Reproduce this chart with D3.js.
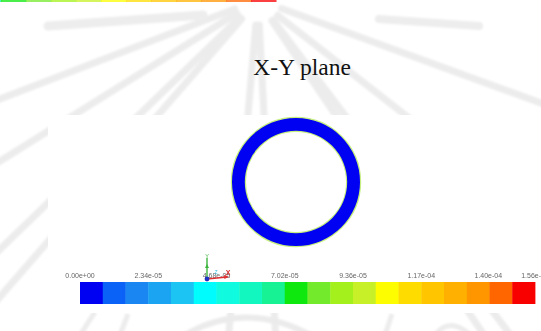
<!DOCTYPE html>
<html>
<head>
<meta charset="utf-8">
<script src="https://cdn.jsdelivr.net/npm/d3@7"></script>
<style>
  html, body { margin: 0; padding: 0; background: #ffffff; overflow: hidden; }
  svg { display: block; }
</style>
</head>
<body>
<svg id="chart" width="541" height="331"></svg>
<script>
// ---- contour colour levels (20 bands, low -> high) ----
const levelColors = [
  "#0000f2", "#0b62f6", "#1a86f2", "#1ba4f2", "#1cc4f4",
  "#00fcfc", "#10fae0", "#12f7c0", "#16f294", "#0ee80e",
  "#74ea2c", "#a4f01c", "#c8f028", "#fdfd00", "#ffdc00",
  "#ffc600", "#ffb000", "#ff9600", "#ff6600", "#f80000"
];
const valueMin = 0;
const valueMax = 1.56e-4;
const tickValues = [0, 2.34e-5, 4.68e-5, 7.02e-5, 9.36e-5, 1.17e-4, 1.40e-4, 1.56e-4];
const tickLabels = ["0.00e+00", "2.34e-05", "4.68e-05", "7.02e-05", "9.36e-05", "1.17e-04", "1.40e-04", "1.56e-04"];

// ---- annular section in the X-Y plane (metres) ----
const pipeOuterRadius = 0.0125;
const pipeInnerRadius = 0.0100;
const ringValue = 0;

// ---- faint background emblem: ray directions in degrees from vertical ----
const emblemRayAngles = [-69, -58, -46, -41, -5, 3, 34, 37, 52, 70];

const svg = d3.select("#chart");
const defs = svg.append("defs");
const soft = (id, s) => defs.append("filter").attr("id", id)
  .attr("x", "-20%").attr("y", "-20%").attr("width", "140%").attr("height", "140%")
  .append("feGaussianBlur").attr("stdDeviation", s);
soft("blurWm", 1.3);
soft("blurRing", 0.55);
soft("blurText", 0.35);

// ---- background emblem ----
const wm = svg.append("g").attr("filter", "url(#blurWm)");
const cx0 = 258, cy0 = 0;
emblemRayAngles.forEach(a => {
  const t = a * Math.PI / 180;
  const dx = Math.sin(t), dy = Math.cos(t);
  wm.append("line")
    .attr("x1", cx0 + dx * 25).attr("y1", cy0 + dy * 25)
    .attr("x2", cx0 + dx * 420).attr("y2", cy0 + dy * 420)
    .attr("stroke", "#ececec").attr("stroke-width", 7).attr("stroke-linecap", "round");
});
wm.append("line").attr("x1", 48).attr("y1", 26).attr("x2", 203).attr("y2", 15)
  .attr("stroke", "#ededed").attr("stroke-width", 9).attr("stroke-linecap", "round");
wm.append("line").attr("x1", 379).attr("y1", 19).attr("x2", 479).attr("y2", 26)
  .attr("stroke", "#ededed").attr("stroke-width", 8).attr("stroke-linecap", "round");
wm.append("path").attr("d", "M185,335 Q245,300 310,335")
  .attr("fill", "none").attr("stroke", "#ebebeb").attr("stroke-width", 6);
wm.append("path").attr("d", "M80,335 L95,312 M120,335 L128,314 M385,335 L392,314 M435,335 Q450,316 470,335")
  .attr("fill", "none").attr("stroke", "#ececec").attr("stroke-width", 5);

// ---- strip of a colour bar along the top edge ----
const topBand = d3.scaleBand().domain(d3.range(levelColors.length)).range([-224, 276]);
svg.append("g").selectAll("rect").data(levelColors).join("rect")
  .attr("x", (d, i) => topBand(i)).attr("y", 0)
  .attr("width", topBand.bandwidth() + 0.5).attr("height", 2)
  .attr("fill", d => d).attr("opacity", 0.75);

// ---- title ----
svg.append("text")
  .attr("x", 302).attr("y", 75)
  .attr("text-anchor", "middle")
  .attr("font-family", "'Liberation Serif', 'Times New Roman', serif")
  .attr("font-size", 23.5).attr("fill", "#111")
  .text("X-Y plane");

// ---- white contour panel ----
svg.append("rect").attr("x", 48).attr("y", 115).attr("width", 493).attr("height", 198).attr("fill", "#ffffff");

// ---- ring contour ----
const colorOf = d3.scaleQuantize().domain([valueMin, valueMax]).range(levelColors);
const xs = d3.scaleLinear().domain([-pipeOuterRadius, pipeOuterRadius]).range([232, 360]);
const ys = d3.scaleLinear().domain([pipeOuterRadius, -pipeOuterRadius]).range([118, 246]);
const rs = d3.scaleLinear().domain([0, pipeOuterRadius]).range([0, 64]);
const ring = svg.append("g")
  .attr("transform", `translate(${xs(0)},${ys(0)})`)
  .attr("filter", "url(#blurRing)");
ring.selectAll("circle.edge").data([pipeOuterRadius, pipeInnerRadius]).join("circle")
  .attr("class", "edge").attr("r", d => rs(d))
  .attr("fill", "none").attr("stroke", "#c6ee80").attr("stroke-width", 2.4);
ring.append("path")
  .attr("d", d3.arc().innerRadius(rs(pipeInnerRadius)).outerRadius(rs(pipeOuterRadius))
    .startAngle(0).endAngle(2 * Math.PI)())
  .attr("fill", colorOf(ringValue));

// ---- colour legend ----
const band = d3.scaleBand().domain(d3.range(levelColors.length)).range([80, 535]);
const lx = d3.scaleLinear().domain([valueMin, valueMax]).range([80, 535]);
const legend = svg.append("g");
legend.selectAll("rect").data(levelColors).join("rect")
  .attr("x", (d, i) => band(i)).attr("y", 282)
  .attr("width", band.bandwidth() + 0.4).attr("height", 22)
  .attr("fill", d => d);
legend.append("g").attr("filter", "url(#blurText)")
  .selectAll("text").data(tickValues).join("text")
  .attr("x", d => lx(d)).attr("y", 277.5)
  .attr("text-anchor", "middle")
  .attr("font-family", "'Liberation Sans', Arial, sans-serif")
  .attr("font-size", 7).attr("fill", "#666")
  .text((d, i) => tickLabels[i]);

// ---- axis triad ----
const tri = svg.append("g").attr("transform", "translate(207,279)").attr("filter", "url(#blurText)");
tri.append("line").attr("x1", 0).attr("y1", 0).attr("x2", 0).attr("y2", -21)
  .attr("stroke", "#3cb43c").attr("stroke-width", 1.4);
tri.append("path").attr("d", "M-2,-11 L2,-11 L0,-15 Z").attr("fill", "#3cb43c");
tri.append("text").attr("x", 0).attr("y", -21).attr("text-anchor", "middle")
  .attr("font-family", "'Liberation Sans', Arial, sans-serif").attr("font-size", 5.5)
  .attr("fill", "#3cb43c").text("Y");
tri.append("line").attr("x1", 0).attr("y1", 0).attr("x2", 20).attr("y2", -2)
  .attr("stroke", "#e03030").attr("stroke-width", 1.4);
tri.append("path").attr("d", "M17,-4 L22,-2.2 L17.4,0 Z").attr("fill", "#e03030");
tri.append("text").attr("x", 21).attr("y", -4).attr("text-anchor", "middle")
  .attr("font-family", "'Liberation Sans', Arial, sans-serif").attr("font-size", 7)
  .attr("font-weight", "bold").attr("fill", "#d83030").text("X");
tri.append("text").attr("x", 9).attr("y", -5).attr("text-anchor", "middle")
  .attr("font-family", "'Liberation Sans', Arial, sans-serif").attr("font-size", 5)
  .attr("fill", "#40c0e0").text("Z");
tri.append("circle").attr("cx", 0).attr("cy", 0).attr("r", 2.4).attr("fill", "#2030c0");
</script>
</body>
</html>
